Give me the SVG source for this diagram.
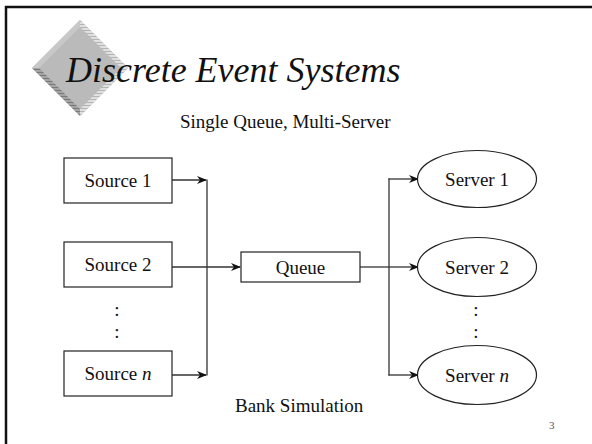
<svg xmlns="http://www.w3.org/2000/svg" width="592" height="444" viewBox="0 0 592 444">
<style>
text{font-family:"Liberation Serif","Times New Roman",serif;fill:#111}
.lbl{font-size:19px;text-anchor:middle}
.box{fill:#fff;stroke:#222;stroke-width:1.2}
.con{fill:none;stroke:#333;stroke-width:1.3}
</style>
<defs>
<marker id="arr" viewBox="0 0 10 10" refX="9" refY="5" markerWidth="10" markerHeight="10" markerUnits="userSpaceOnUse" orient="auto">
<path d="M0,1 L10,5 L0,9 L3,5 Z" fill="#111"/>
</marker>
<pattern id="stripeL" width="4" height="3" patternUnits="userSpaceOnUse">
<rect width="4" height="3" fill="#e0e0e0"/><rect width="4" height="1" fill="#b4b4b4"/>
</pattern>
<pattern id="stripeD" width="4" height="3" patternUnits="userSpaceOnUse">
<rect width="4" height="3" fill="#a4a4a4"/><rect width="4" height="1" fill="#7a7a7a"/>
</pattern>
</defs>
<rect width="592" height="444" fill="#fff"/>
<g id="frame">
<line x1="5" y1="7" x2="592" y2="7" stroke="#111" stroke-width="2.5"/>
<line x1="6" y1="6" x2="6" y2="444" stroke="#111" stroke-width="2.5"/>
</g>
<g id="logo">
<polygon points="80,20 128,68 80,116 32,68" fill="#bababa"/>
<polygon points="80,20 128,68 121,68 80,27" fill="url(#stripeL)"/>
<polygon points="128,68 80,116 80,109 121,68" fill="url(#stripeL)"/>
<polygon points="32,68 80,116 80,109 39,68" fill="url(#stripeD)"/>
<polygon points="32,68 80,20 80,27 39,68" fill="#c8c8c8"/>
</g>
<text id="title" x="66" y="82" font-size="36" font-style="italic">Discrete Event Systems</text>
<text id="subtitle" x="180" y="128" font-size="19">Single Queue, Multi-Server</text>
<g id="connectors">
<line class="con" x1="172" y1="180" x2="206" y2="180" marker-end="url(#arr)"/>
<line class="con" x1="172" y1="375" x2="206" y2="375" marker-end="url(#arr)"/>
<line class="con" x1="207" y1="179.4" x2="207" y2="375.6"/>
<line class="con" x1="172" y1="267" x2="240" y2="267" marker-end="url(#arr)"/>
<line class="con" x1="360" y1="267" x2="389" y2="267"/>
<line class="con" x1="389" y1="178.4" x2="389" y2="375.6"/>
<line class="con" x1="388.4" y1="179" x2="418" y2="179" marker-end="url(#arr)"/>
<line class="con" x1="389" y1="267" x2="418" y2="267" marker-end="url(#arr)"/>
<line class="con" x1="388.4" y1="375" x2="418" y2="375" marker-end="url(#arr)"/>
</g>
<g id="source1"><rect class="box" x="64" y="158" width="108" height="45"/><text class="lbl" x="118" y="187">Source 1</text></g>
<g id="source2"><rect class="box" x="64" y="242" width="108" height="45"/><text class="lbl" x="118" y="271">Source 2</text></g>
<g id="sdots"><text class="lbl" x="117" y="316">:</text><text class="lbl" x="117" y="338">:</text></g>
<g id="sourcen"><rect class="box" x="64" y="351" width="108" height="45"/><text class="lbl" x="118" y="380">Source <tspan font-style="italic">n</tspan></text></g>
<g id="queue"><rect class="box" x="241" y="252" width="119" height="30"/><text class="lbl" x="300.5" y="273.5">Queue</text></g>
<g id="server1"><ellipse class="box" cx="477" cy="179" rx="59.5" ry="28.5"/><text class="lbl" x="477" y="185.5">Server 1</text></g>
<g id="server2"><ellipse class="box" cx="477" cy="267" rx="59.5" ry="29.5"/><text class="lbl" x="477" y="273.5">Server 2</text></g>
<g id="vdots"><text class="lbl" x="476" y="316">:</text><text class="lbl" x="476" y="338">:</text></g>
<g id="servern"><ellipse class="box" cx="477" cy="375" rx="59.5" ry="29.5"/><text class="lbl" x="477" y="381.5">Server <tspan font-style="italic">n</tspan></text></g>
<text id="caption" x="235" y="412" font-size="19">Bank Simulation</text>
<text id="page" x="549" y="429" font-size="11" style="fill:#555">3</text>
</svg>
